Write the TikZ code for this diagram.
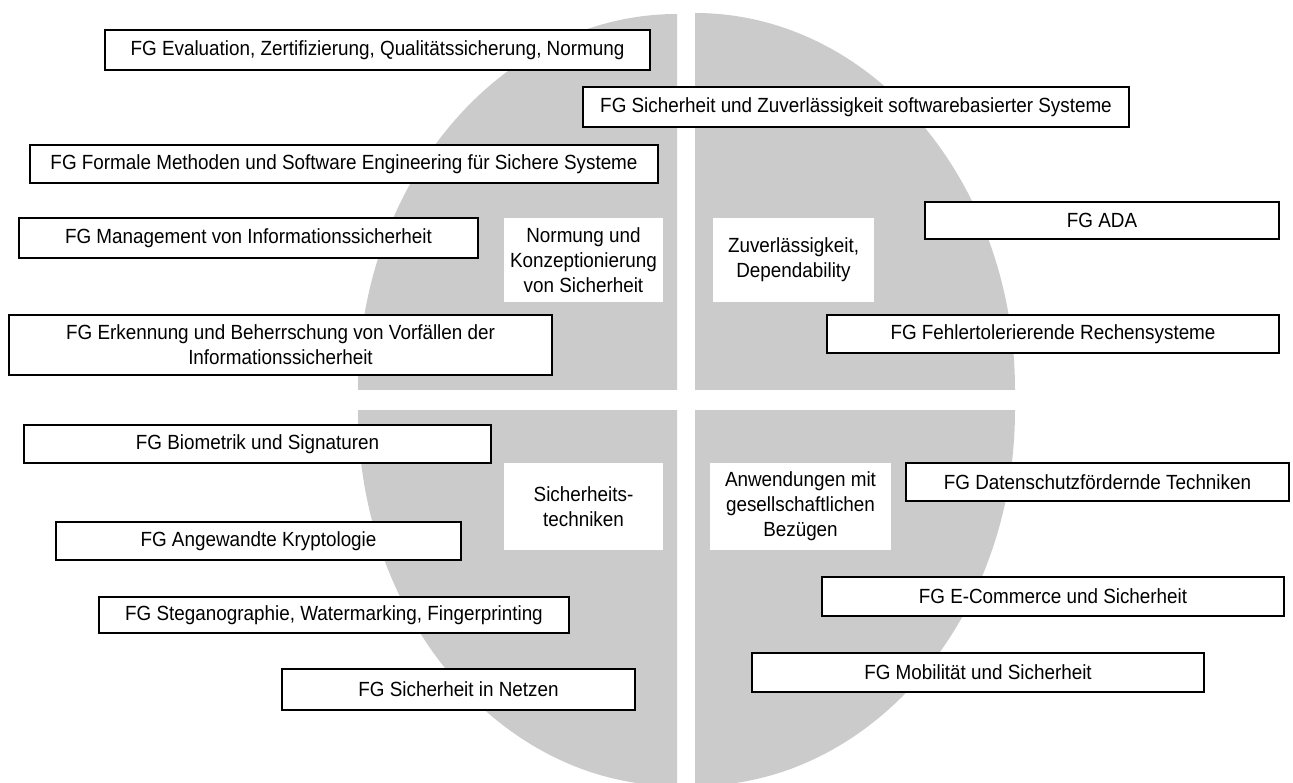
\documentclass[tikz,border=0pt]{standalone}
\usepackage{fontspec}
\setmainfont{Liberation Sans}[FakeStretch=0.92]
\definecolor{quadgrey}{HTML}{CBCBCB}
\tikzset{
  fgbox/.style={draw=black, line width=1.5pt, fill=white, inner sep=0pt, align=center, font=\fontsize{20.5}{25}\selectfont},
  areabox/.style={draw=none, fill=white, inner sep=0pt, align=center, font=\fontsize{20.5}{25}\selectfont},
  quad/.style={fill=quadgrey}
}
\begin{document}
\begin{tikzpicture}[x=1pt,y=-1pt]
\useasboundingbox (0,0) rectangle (1293,783);
% four quarter-ellipses
\begin{scope}\clip (0,0) rectangle (677,390);
  \fill[quad] (677,390) ellipse [x radius=319pt, y radius=376pt];\end{scope}
\begin{scope}\clip (695,0) rectangle (1293,390);
  \fill[quad] (695,390) ellipse [x radius=320pt, y radius=377pt];\end{scope}
\begin{scope}\clip (0,410) rectangle (677,783);
  \fill[quad] (677,410) ellipse [x radius=319pt, y radius=376pt];\end{scope}
\begin{scope}\clip (695,410) rectangle (1293,783);
  \fill[quad] (695,410) ellipse [x radius=320pt, y radius=376pt];\end{scope}

% area labels
\node[areabox, minimum width=159pt, minimum height=84pt] (norm) at (583.5,260) {Normung und\\Konzeptionierung\\von Sicherheit};
\node[areabox, minimum width=161pt, minimum height=84pt] (zuv) at (793.5,260) {Zuverlässigkeit,\\Dependability};
\node[areabox, minimum width=159pt, minimum height=87pt] (tech) at (583.5,506.5) {Sicherheits-\\techniken};
\node[areabox, minimum width=181pt, minimum height=87pt] (anw) at (800.5,506.5) {Anwendungen mit\\gesellschaftlichen\\Bezügen};

% FG boxes
\node[fgbox, minimum width=545pt, minimum height=40pt] (eval) at (377.5,50) {FG Evaluation, Zertifizierung, Qualitätssicherung, Normung};
\node[fgbox, minimum width=546pt, minimum height=40pt] (szs) at (856,107) {FG Sicherheit und Zuverlässigkeit softwarebasierter Systeme};
\node[fgbox, minimum width=628pt, minimum height=38pt] (formal) at (344,164) {FG Formale Methoden und Software Engineering für Sichere Systeme};
\node[fgbox, minimum width=459pt, minimum height=40pt] (mgmt) at (248.5,238) {FG Management von Informationssicherheit};
\node[fgbox, minimum width=543pt, minimum height=60pt] (erk) at (280.5,345) {FG Erkennung und Beherrschung von Vorfällen der\\Informationssicherheit};
\node[fgbox, minimum width=354pt, minimum height=37pt] (ada) at (1102,220.5) {FG ADA};
\node[fgbox, minimum width=452pt, minimum height=38pt] (fehler) at (1053,334) {FG Fehlertolerierende Rechensysteme};
\node[fgbox, minimum width=467pt, minimum height=38pt] (bio) at (257.5,444) {FG Biometrik und Signaturen};
\node[fgbox, minimum width=405pt, minimum height=38pt] (krypto) at (258.5,541) {FG Angewandte Kryptologie};
\node[fgbox, minimum width=470pt, minimum height=36pt] (stego) at (334,615) {FG Steganographie, Watermarking, Fingerprinting};
\node[fgbox, minimum width=353pt, minimum height=41pt] (netz) at (458.5,689.5) {FG Sicherheit in Netzen};
\node[fgbox, minimum width=383pt, minimum height=38pt] (daten) at (1097.5,482) {FG Datenschutzfördernde Techniken};
\node[fgbox, minimum width=462pt, minimum height=39pt] (ecom) at (1053,596.5) {FG E-Commerce und Sicherheit};
\node[fgbox, minimum width=452pt, minimum height=39pt] (mobil) at (978,672.5) {FG Mobilität und Sicherheit};
\end{tikzpicture}
\end{document}
